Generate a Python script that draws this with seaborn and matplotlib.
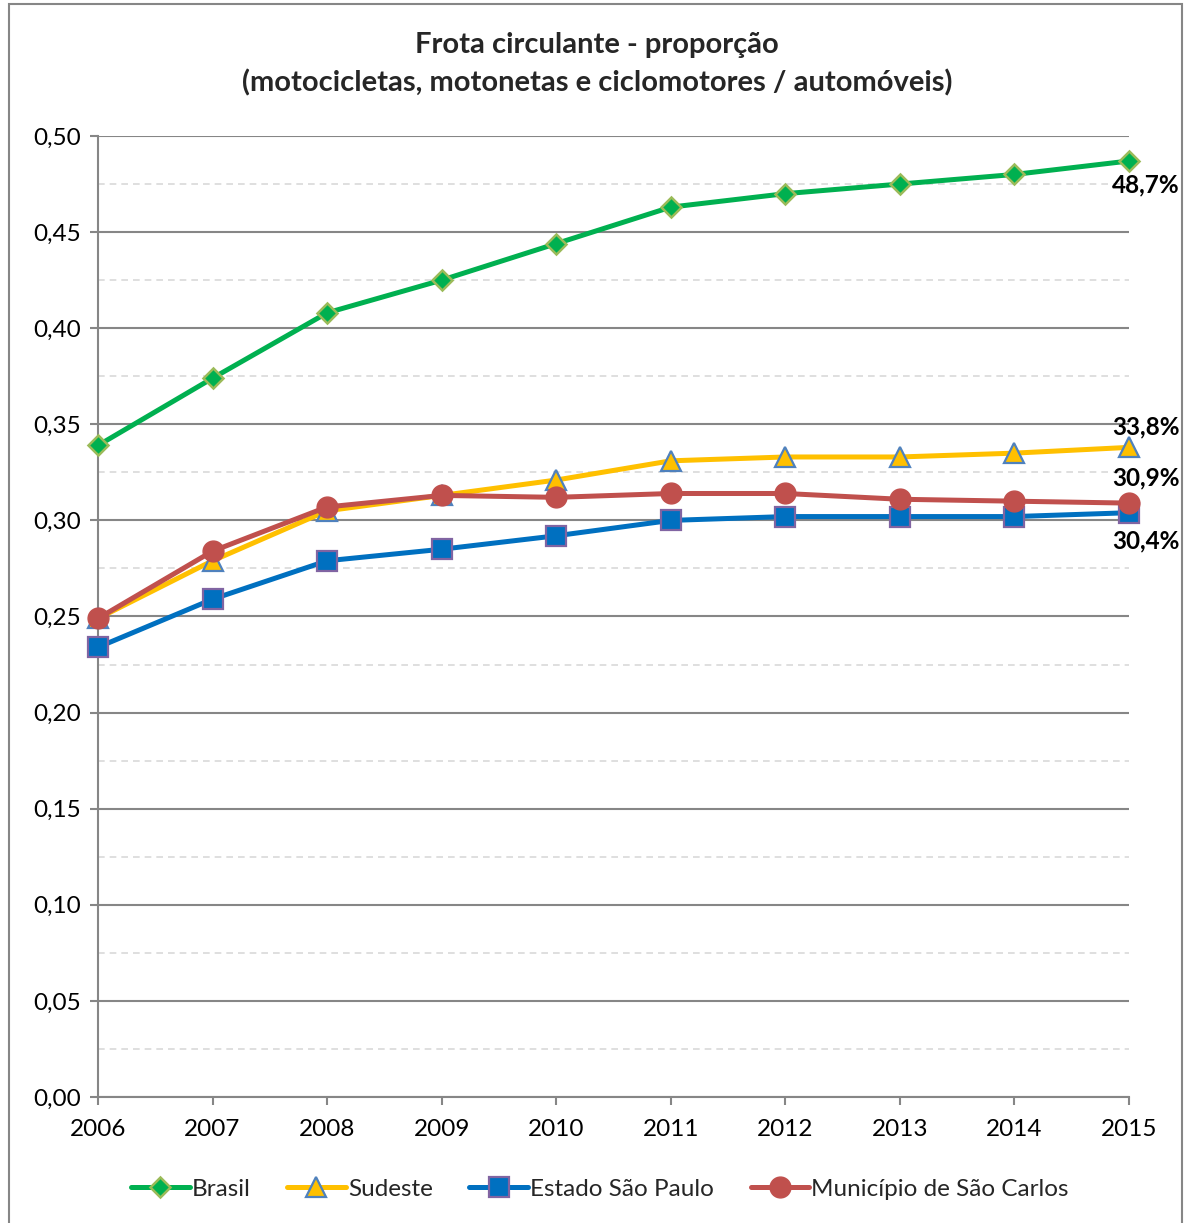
import matplotlib
matplotlib.use("Agg")
import matplotlib.pyplot as plt
import seaborn as sns
import numpy as np
import pandas as pd
from matplotlib.ticker import FuncFormatter, MultipleLocator
from matplotlib.patches import Rectangle

years = [2006, 2007, 2008, 2009, 2010, 2011, 2012, 2013, 2014, 2015]
brasil = [0.339, 0.374, 0.408, 0.425, 0.444, 0.463, 0.470, 0.475, 0.480, 0.487]
sudeste = [0.249, 0.279, 0.305, 0.313, 0.321, 0.331, 0.333, 0.333, 0.335, 0.338]
estado_sp = [0.234, 0.259, 0.279, 0.285, 0.292, 0.300, 0.302, 0.302, 0.302, 0.304]
sao_carlos = [0.249, 0.284, 0.307, 0.313, 0.312, 0.314, 0.314, 0.311, 0.310, 0.309]
names = ["Brasil", "Sudeste", "Estado São Paulo", "Município de São Carlos"]
title_lines = ["Frota circulante - proporção",
               "(motocicletas, motonetas e ciclomotores / automóveis)"]

sns.set_theme(style="white")
plt.rcParams['font.family'] = ['Lato', 'DejaVu Sans']

fig = plt.figure(figsize=(11.85, 12.23), dpi=100)
ax = fig.add_axes([98/1185, 1-1097/1223, (1129-98)/1185, (1097-136)/1223])

styles = [
    dict(color="#00B050", marker="D", markersize=10.5, mfc="#00B050", mec="#9BBB59", mew=1.8),
    dict(color="#FFC000", marker="^", markersize=15, mfc="#FFC000", mec="#4F81BD", mew=1.6),
    dict(color="#0070C0", marker="s", markersize=14, mfc="#0070C0", mec="#8064A2", mew=1.6),
    dict(color="#C0504D", marker="o", markersize=15, mfc="#C0504D", mec="#C0504D", mew=1.0),
]
series = [brasil, sudeste, estado_sp, sao_carlos]
offsets = [(12, -17), (12, 15), (12, -20), (12, 18)]

for name, vals, st, off in zip(names, series, styles, offsets):
    df = pd.DataFrame({"ano": years, "v": vals})
    sns.lineplot(data=df, x="ano", y="v", ax=ax, label=name, linewidth=3.6,
                 color=st["color"], marker=st["marker"], markersize=st["markersize"],
                 markerfacecolor=st["mfc"], markeredgecolor=st["mec"],
                 markeredgewidth=st["mew"], clip_on=False, zorder=3)
    lab = f"{vals[-1]*100:.1f}%".replace(".", ",")
    ax.annotate(lab, (years[-1], vals[-1]), xytext=off, textcoords="offset points",
                ha="center", va="center", fontsize=17.5, fontweight="bold", color="black")

ax.set_xlim(2006, 2015)
ax.set_ylim(0, 0.5)
ax.set_xticks(years)
ax.yaxis.set_major_locator(MultipleLocator(0.05))
ax.yaxis.set_minor_locator(MultipleLocator(0.025))
ax.yaxis.set_major_formatter(FuncFormatter(lambda v, p: f"{v:.2f}".replace(".", ",")))
ax.grid(which="major", axis="y", color="#868686", linewidth=1.5, linestyle="-")
ax.grid(which="minor", axis="y", color="#D9D9D9", linewidth=1.2, linestyle=(0, (4, 3)))
ax.set_axisbelow(True)
for s in ["top", "right"]:
    ax.spines[s].set_visible(False)
for s in ["left", "bottom"]:
    ax.spines[s].set_color("#868686")
    ax.spines[s].set_linewidth(1.5)
ax.tick_params(axis="both", which="major", labelsize=17.5, colors="black", length=6,
               width=1.5, color="#868686", direction="out", pad=6)
ax.tick_params(axis="y", which="minor", length=0)
ax.tick_params(axis="x", pad=10, bottom=True)
ax.tick_params(axis="y", left=True)
ax.set_xlabel("")
ax.set_ylabel("")

handles, labels = ax.get_legend_handles_labels()
ax.legend(handles, labels, loc="center", bbox_to_anchor=(600/1185, 1-1189/1223),
          bbox_transform=fig.transFigure, ncol=4, frameon=False, fontsize=17.5,
          handlelength=2.4, handletextpad=0.1, columnspacing=1.5)

fig.text(597/1185, 1-45/1223, title_lines[0], ha="center", va="center",
         fontsize=21, fontweight="bold")
fig.text(597/1185, 1-83/1223, title_lines[1], ha="center", va="center",
         fontsize=21, fontweight="bold")

fig.patches.append(Rectangle((9/1185, -0.01), (1182-9)/1185, 1.01-4/1223,
                             transform=fig.transFigure, fill=False,
                             edgecolor="#868686", linewidth=1.5))

fig.savefig("out.png", dpi=100)
